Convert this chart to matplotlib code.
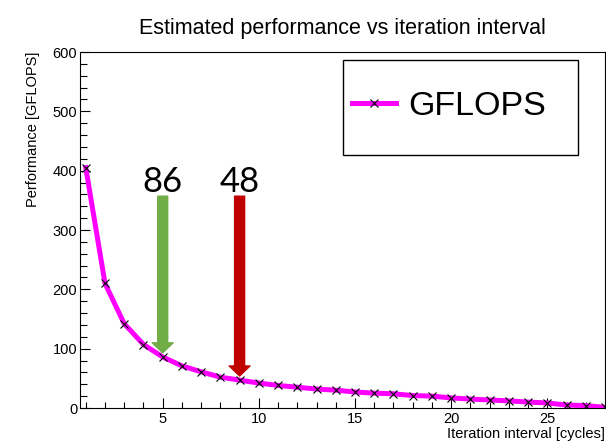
import matplotlib.pyplot as plt
from matplotlib.patches import FancyArrowPatch, Rectangle
from matplotlib.ticker import MultipleLocator

# data
intervals = list(range(1, 29))
gflops = [405, 210, 142, 107, 86, 71, 61, 52, 47, 42, 38, 35, 32, 30,
          27, 25, 24, 21, 20, 17, 15, 13.5, 12, 10, 8.5, 5, 4, 1]

arrow_x = [5, 9]
arrow_top = [357, 357]
arrow_tip = [93, 54]
arrow_labels = ["86", "48"]
arrow_colors = ["#70AD47", "#C00000"]

plt.rcParams["font.family"] = ["Liberation Sans", "DejaVu Sans"]

fig = plt.figure(figsize=(6.06, 4.41), dpi=100)
ax = fig.add_axes([80 / 606, 1 - 408 / 441, 525 / 606, 356 / 441])

ax.plot(intervals, gflops, color="#FF00FF", lw=3.6, marker="x",
        ms=5.5, mec="black", mew=0.8, label="GFLOPS", zorder=3)

for x, top, tip, text, color in zip(arrow_x, arrow_top, arrow_tip,
                                    arrow_labels, arrow_colors):
    arrow = FancyArrowPatch(
        (x, top), (x, tip),
        arrowstyle="simple,head_length=0.72,head_width=1.5,tail_width=0.72",
        mutation_scale=10, color=color, shrinkA=0, shrinkB=0, zorder=4)
    ax.add_patch(arrow)
    ax.text(x, top + 7, text, ha="center", va="baseline",
            fontsize=25, family=["Lato", "DejaVu Sans"])

ax.set_xlim(0.7, 28.0)
ax.set_ylim(0, 600)
ax.xaxis.set_major_locator(MultipleLocator(5))
ax.xaxis.set_minor_locator(MultipleLocator(1))
ax.yaxis.set_major_locator(MultipleLocator(100))
ax.yaxis.set_minor_locator(MultipleLocator(20))
ax.tick_params(which="both", direction="in", top=False, right=False,
               width=0.8, labelsize=10.5)
ax.tick_params(axis="x", which="major", length=7.5, pad=3)
ax.tick_params(axis="x", which="minor", length=4.2)
ax.tick_params(axis="y", which="major", length=7.5, pad=2)
ax.tick_params(axis="y", which="minor", length=5)
for spine in ax.spines.values():
    spine.set_linewidth(0.8)

ax.set_title("Estimated performance vs iteration interval", fontsize=15.5,
             pad=13)
ax.set_xlabel("Iteration interval [cycles]", loc="right", fontsize=10.5)
ax.xaxis.set_label_coords(1.0, -0.074)
ax.xaxis.label.set_verticalalignment("center")
ax.set_ylabel("Performance [GFLOPS]", loc="top", fontsize=10.5)
ax.yaxis.set_label_coords(-0.0895, 1.0)
ax.yaxis.label.set_verticalalignment("center")

# legend box drawn by hand, ROOT style
ax.add_patch(Rectangle((0.501, 0.711), 0.448, 0.267, transform=ax.transAxes,
                       fill=False, lw=1.0, ec="black", zorder=5))
ax.legend(loc="center left", bbox_to_anchor=(0.518, 0.846), frameon=False,
          fontsize=24.5, borderpad=0, borderaxespad=0, handlelength=1.3,
          handletextpad=0.35)

fig.savefig("out.png", dpi=100)
